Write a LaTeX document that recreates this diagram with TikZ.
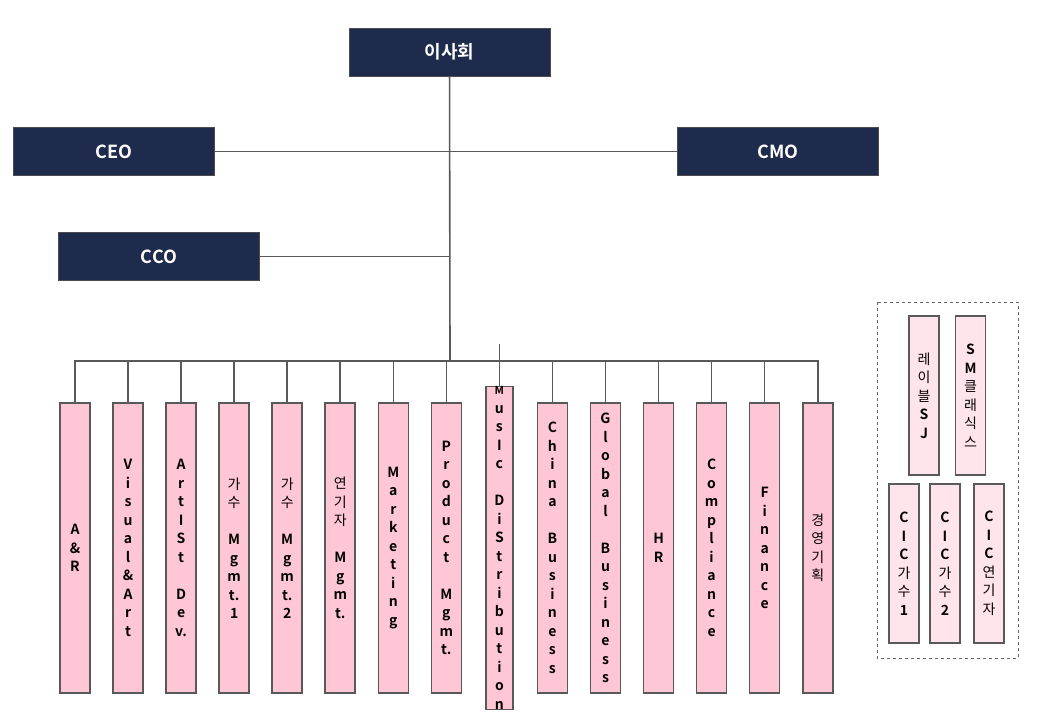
\documentclass[tikz,border=0pt]{standalone}
\usepackage{fontspec}
\setmainfont{Noto Sans CJK KR}[BoldFont={Noto Sans CJK KR Bold}]
\begin{document}
\begin{tikzpicture}[x=1pt,y=-1pt,
  top/.style={draw=black!70,line width=1pt,fill=navy,text=white,font=\fontsize{18}{20}\selectfont\bfseries,minimum width=201pt,minimum height=48pt,inner sep=0pt},
  dept/.style={draw=black!65,line width=1.6pt,fill=pinkA,minimum width=30pt,minimum height=290pt,inner sep=0pt,align=center,font=\fontsize{14}{18.5}\selectfont\bfseries},
  sub/.style={dept,fill=pinkB,minimum height=159pt},
  ln/.style={draw=black!65,line width=1.6pt}]
\definecolor{navy}{HTML}{1F2B4D}
\definecolor{pinkA}{HTML}{FFC7D6}
\definecolor{pinkB}{HTML}{FFE4EC}
\useasboundingbox (0,0) rectangle (1040,720);
\node[top] (board) at (449.5,52) {이사회};
\node[top] (ceo) at (114,151.5) {CEO};
\node[top] (cmo) at (778,151.5) {CMO};
\node[top] (cco) at (159,256.5) {CCO};
\coordinate (t1) at (450,146);
\coordinate (t2) at (450,256.5);
\coordinate (t3) at (450,361);
\draw[ln] (board) -- (t3);
\draw[ln] (ceo) -- (cmo);
\draw[ln] (cco) -- (t2);
\foreach \n/\i/\t in {
 ar/0/{A\\\&\\R},
 va/1/{V\\i\\s\\u\\a\\l\\\&\\A\\r\\t},
 ad/2/{A\\r\\t\\I\\S\\t\\~\\D\\e\\v.},
 s1/3/{\mdseries 가\\\mdseries 수\\~\\M\\g\\m\\t.\\1},
 s2/4/{\mdseries 가\\\mdseries 수\\~\\M\\g\\m\\t.\\2},
 ac/5/{\mdseries 연\\\mdseries 기\\\mdseries 자\\~\\M\\g\\m\\t.},
 mk/6/{M\\a\\r\\k\\e\\t\\i\\n\\g},
 pm/7/{P\\r\\o\\d\\u\\c\\t\\~\\M\\g\\m\\t.},
 md/8/{\fontsize{11}{16.4}\selectfont M\\u\\s\\I\\c\\~\\D\\i\\S\\t\\r\\i\\b\\u\\t\\i\\o\\n},
 cb/9/{C\\h\\i\\n\\a\\~\\B\\u\\s\\i\\n\\e\\s\\s},
 gb/10/{G\\l\\o\\b\\a\\l\\~\\B\\u\\s\\i\\n\\e\\s\\s},
 hr/11/{H\\R},
 co/12/{C\\o\\m\\p\\l\\i\\a\\n\\c\\e},
 fi/13/{F\\i\\n\\a\\n\\c\\e},
 gy/14/{\mdseries 경\\\mdseries 영\\\mdseries 기\\\mdseries 획}} {
  \node[dept,minimum width={\i==8?27:30}] (\n) at ({75+53.05*\i},548) {\t};
  \draw[ln] (\n.north) -- ++(0,-42);
}
\draw[ln] (ar.north|-t3) -- (gy.north|-t3);
\draw[black!60,dashed,line width=0.6pt] (877,302) rectangle (1018,658);
\node[sub] (sj) at (924,395.5) {\mdseries 레\\\mdseries 이\\\mdseries 블\\S\\J};
\node[sub] (smc) at (970.5,395.5) {S\\M\\\mdseries 클\\\mdseries 래\\\mdseries 식\\\mdseries 스};
\node[sub] (c1) at (904,563.5) {C\\I\\C\\\mdseries 가\\\mdseries 수\\1};
\node[sub] (c2) at (945,563.5) {C\\I\\C\\\mdseries 가\\\mdseries 수\\2};
\node[sub] (c3) at (989,563.5) {C\\I\\C\\\mdseries 연\\\mdseries 기\\\mdseries 자};
\end{tikzpicture}
\end{document}
